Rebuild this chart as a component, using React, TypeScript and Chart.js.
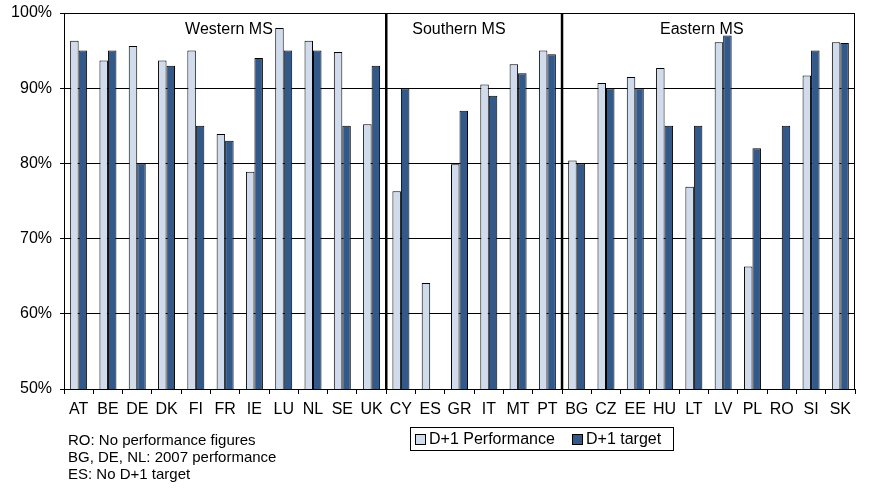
import React, { useEffect, useRef } from 'react';
import { Chart, registerables } from 'chart.js';

Chart.register(...registerables);

const categories = ['AT', 'BE', 'DE', 'DK', 'FI', 'FR', 'IE', 'LU', 'NL', 'SE', 'UK', 'CY', 'ES', 'GR', 'IT', 'MT', 'PT', 'BG', 'CZ', 'EE', 'HU', 'LT', 'LV', 'PL', 'RO', 'SI', 'SK'];
const performance = [96.3, 93.7, 95.6, 93.7, 95, 83.9, 78.9, 98, 96.3, 94.8, 85.2, 76.3, 64.1, 79.9, 90.5, 93.2, 95, 80.4, 90.7, 91.5, 92.7, 76.9, 96.1, 66.3, null, 91.7, 96.1];
const target = [95, 95, 80, 93, 85, 83, 94, 95, 95, 85, 93, 90, null, 87, 89, 92, 94.5, 80, 90, 90, 85, 85, 97, 82, 85, 95, 96];
const seriesNames = ['D+1 Performance', 'D+1 target'];
const groupNames = ['Western MS', 'Southern MS', 'Eastern MS'];
const groupEnds = ['UK', 'PT'];
const notes = ['RO: No performance figures', 'BG, DE, NL: 2007 performance', 'ES: No D+1 target'];

const LIGHT = '#D0DBEB';
const DARK = '#33598B';
const FONT = '"Liberation Sans", Arial, sans-serif';

const overlay = {
  id: 'overlay',
  afterDraw(chart: any) {
    const ctx = chart.ctx;
    const { left, right, top, bottom } = chart.chartArea;
    const xs = chart.scales.x;
    const step = (right - left) / categories.length;
    ctx.save();
    // right border
    ctx.strokeStyle = '#000';
    ctx.lineWidth = 1;
    ctx.beginPath();
    ctx.moveTo(Math.round(right) - 0.5, top);
    ctx.lineTo(Math.round(right) - 0.5, bottom);
    ctx.stroke();
    // group separators
    ctx.lineWidth = 2.5;
    groupEnds.forEach((c) => {
      const i = categories.indexOf(c);
      const x = (xs.getPixelForValue(i) + xs.getPixelForValue(i + 1)) / 2;
      ctx.beginPath();
      ctx.moveTo(x, top);
      ctx.lineTo(x, bottom);
      ctx.stroke();
    });
    // group labels
    ctx.fillStyle = '#000';
    ctx.font = `16px ${FONT}`;
    ctx.textAlign = 'center';
    ctx.textBaseline = 'middle';
    const labelPos = [5.13, 12.98, 21.27];
    groupNames.forEach((g, k) => {
      ctx.fillText(g, left + (labelPos[k] + 0.5) * step, 30);
    });
    // legend
    ctx.lineWidth = 1;
    ctx.strokeRect(410.5, 427.5, 263, 23);
    ctx.font = `16px ${FONT}`;
    ctx.textAlign = 'left';
    const items = [
      { x: 415, color: LIGHT, text: seriesNames[0] },
      { x: 572, color: DARK, text: seriesNames[1] },
    ];
    items.forEach((it) => {
      ctx.fillStyle = it.color;
      ctx.fillRect(it.x + 0.5, 434.5, 10, 10);
      ctx.strokeRect(it.x + 0.5, 434.5, 10, 10);
      ctx.fillStyle = '#000';
      ctx.fillText(it.text, it.x + 14, 440);
    });
    // notes
    ctx.font = `15px ${FONT}`;
    notes.forEach((n, k) => {
      ctx.fillText(n, 68, 441 + k * 17);
    });
    ctx.restore();
  },
};

export default function App() {
  const ref = useRef<HTMLCanvasElement>(null);
  useEffect(() => {
    const chart = new Chart(ref.current as HTMLCanvasElement, {
      type: 'bar',
      data: {
        labels: categories,
        datasets: [
          {
            label: seriesNames[0],
            data: performance,
            backgroundColor: LIGHT,
            borderColor: '#000',
            borderWidth: 1,
            categoryPercentage: 0.58,
            barPercentage: 1,
          },
          {
            label: seriesNames[1],
            data: target,
            backgroundColor: DARK,
            borderColor: '#000',
            borderWidth: 1,
            categoryPercentage: 0.58,
            barPercentage: 1,
          },
        ],
      },
      options: {
        responsive: false,
        animation: false,
        devicePixelRatio: 1,
        layout: { padding: { top: 13, right: 15, left: 0, bottom: 0 } },
        plugins: { legend: { display: false }, tooltip: { enabled: false } },
        scales: {
          x: {
            offset: true,
            grid: { offset: true, drawOnChartArea: false, drawTicks: true, tickLength: 5, color: '#000' },
            border: { color: '#000', width: 1 },
            ticks: { color: '#000', font: { family: FONT, size: 16 }, padding: 6, autoSkip: false, maxRotation: 0 },
            afterFit: (s: any) => { s.height = 493 - 389; s.paddingLeft = 0; s.paddingRight = 0; },
          },
          y: {
            min: 50,
            max: 100,
            ticks: { stepSize: 10, color: '#000', font: { family: FONT, size: 16 }, padding: 8, callback: (v: any) => v + '%' },
            grid: { color: '#000', tickLength: 4, lineWidth: 1 },
            border: { color: '#000', width: 1 },
            afterFit: (s: any) => { s.width = 64; s.paddingTop = 0; s.paddingBottom = 0; },
          },
        },
      },
      plugins: [overlay],
    } as any);
    return () => chart.destroy();
  }, []);
  return (
    <div style={{ position: 'absolute', left: 0, top: 0, width: 870, height: 493, background: '#fff' }}>
      <canvas ref={ref} width={870} height={493} />
    </div>
  );
}
